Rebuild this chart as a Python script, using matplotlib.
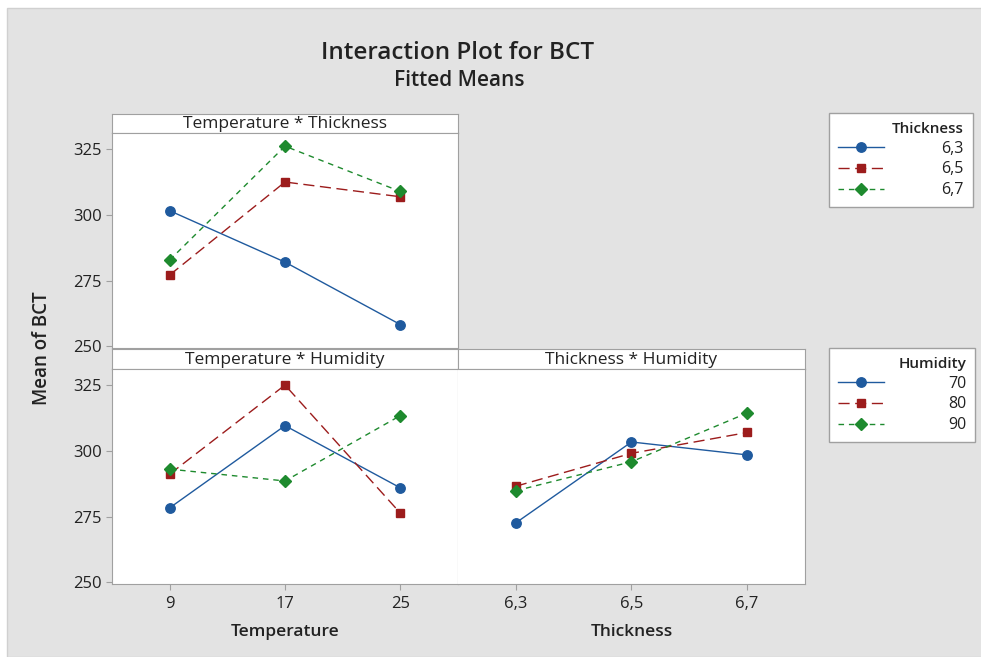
import numpy as np
import matplotlib
matplotlib.use('Agg')
import matplotlib.pyplot as plt
from matplotlib.patches import Rectangle

plt.rcParams['font.family'] = ['Open Sans', 'DejaVu Sans']

# levels
temperature = ['9', '17', '25']
thickness = ['6,3', '6,5', '6,7']
humidity = ['70', '80', '90']

# Temperature * Thickness (rows = thickness)
temp_thick = [[301.5, 282.0, 258.3],
              [277.1, 312.4, 306.8],
              [282.8, 326.0, 308.8]]
# Temperature * Humidity (rows = humidity)
temp_hum = [[278.3, 309.5, 285.9],
            [291.1, 324.9, 276.3],
            [293.0, 288.5, 313.3]]
# Thickness * Humidity (rows = humidity)
thick_hum = [[272.6, 303.3, 298.4],
             [286.5, 299.0, 306.9],
             [284.8, 295.8, 314.3]]

colors = ['#1f5a9e', '#9c1c1c', '#1e8a2e']
markers = ['o', 's', 'D']
msizes = [6.8, 6.3, 5.8]
styles = ['-', (0, (8, 4)), (0, (4, 3.5))]

W, H = 981, 657
fig = plt.figure(figsize=(W / 100, H / 100), dpi=100, facecolor='white')
# gray background panel
fig.patches.append(Rectangle((7 / W, 0), 1, 1 - 8 / H, transform=fig.transFigure,
                             facecolor='#e3e3e3', edgecolor='#d0d0d0', lw=1, zorder=-10))

def fx(px):
    return px / W

def fy(py):
    return 1 - py / H

grid_col = '#a0a0a0'
txt_col = '#222222'

def make_panel(x0, x1, strip_top, strip_bot, bottom, title):
    s = fig.add_axes([fx(x0), fy(strip_bot), fx(x1 - x0), (strip_bot - strip_top) / H])
    s.set_xticks([]); s.set_yticks([])
    s.set_facecolor('white')
    for sp in s.spines.values():
        sp.set_color(grid_col)
    s.text(0.5, 0.45, title, ha='center', va='center', fontsize=12.5, color=txt_col,
           transform=s.transAxes)
    ax = fig.add_axes([fx(x0), fy(bottom), fx(x1 - x0), (bottom - strip_bot) / H])
    ax.set_facecolor('white')
    for sp in ax.spines.values():
        sp.set_color(grid_col)
    ax.set_xlim(-0.5, 2.5)
    ax.set_ylim(249.4, 331)
    ax.set_yticks([250, 275, 300, 325])
    ax.tick_params(colors=grid_col, labelcolor=txt_col, labelsize=12, length=4)
    ax.tick_params(axis='x', pad=5)
    return ax

ax1 = make_panel(112, 458, 114, 133, 348, 'Temperature * Thickness')
ax2 = make_panel(112, 458, 349, 369, 584, 'Temperature * Humidity')
ax3 = make_panel(458, 805, 349, 369, 584, 'Thickness * Humidity')

x = np.arange(3)

def draw(ax, data, levels):
    hs = []
    for i, row in enumerate(data):
        h, = ax.plot(x, row, color=colors[i], linestyle=styles[i], lw=1.0,
                     marker=markers[i], markersize=msizes[i], markeredgecolor=colors[i],
                     label=levels[i])
        hs.append(h)
    return hs

h1 = draw(ax1, temp_thick, thickness)
h2 = draw(ax2, temp_hum, humidity)
draw(ax3, thick_hum, humidity)

ax1.set_xticks([])
ax2.set_xticks(x)
ax2.set_xticklabels(temperature)
ax3.set_xticks(x)
ax3.set_xticklabels(thickness)
ax3.set_yticks([])
ax3.spines['left'].set_visible(False)

ax2.set_xlabel('Temperature', fontsize=12.5, fontweight='semibold', color=txt_col, labelpad=8)
ax3.set_xlabel('Thickness', fontsize=12.5, fontweight='semibold', color=txt_col, labelpad=8)

fig.text(fx(42), fy(348), 'Mean of BCT', rotation=90, ha='center', va='center',
         fontsize=13.5, fontweight='semibold', color=txt_col)

fig.text(fx(458), fy(53), 'Interaction Plot for BCT', ha='center', va='center',
         fontsize=17.5, fontweight='semibold', color=txt_col)
fig.text(fx(459), fy(81), 'Fitted Means', ha='center', va='center',
         fontsize=15, fontweight='semibold', color=txt_col)

def legend(handles, title, top, pad):
    lg = fig.legend(handles=handles, title=title, loc='upper left',
                    bbox_to_anchor=(fx(829), fy(top)), borderaxespad=0,
                    fontsize=11.5, title_fontsize=11, alignment='right',
                    handlelength=2.9, handletextpad=pad, labelspacing=0.3,
                    frameon=True, fancybox=False, edgecolor=grid_col,
                    facecolor='white', framealpha=1, borderpad=0.55)
    lg.get_frame().set_linewidth(1)
    lg.get_title().set_fontweight('semibold')
    lg.get_title().set_color(txt_col)
    for t in lg.get_texts():
        t.set_color(txt_col)
    return lg

legend(h1, 'Thickness', 113, 3.6)
legend(h2, 'Humidity', 348, 4.0)

fig.savefig('out.png', dpi=100, facecolor=fig.get_facecolor())
